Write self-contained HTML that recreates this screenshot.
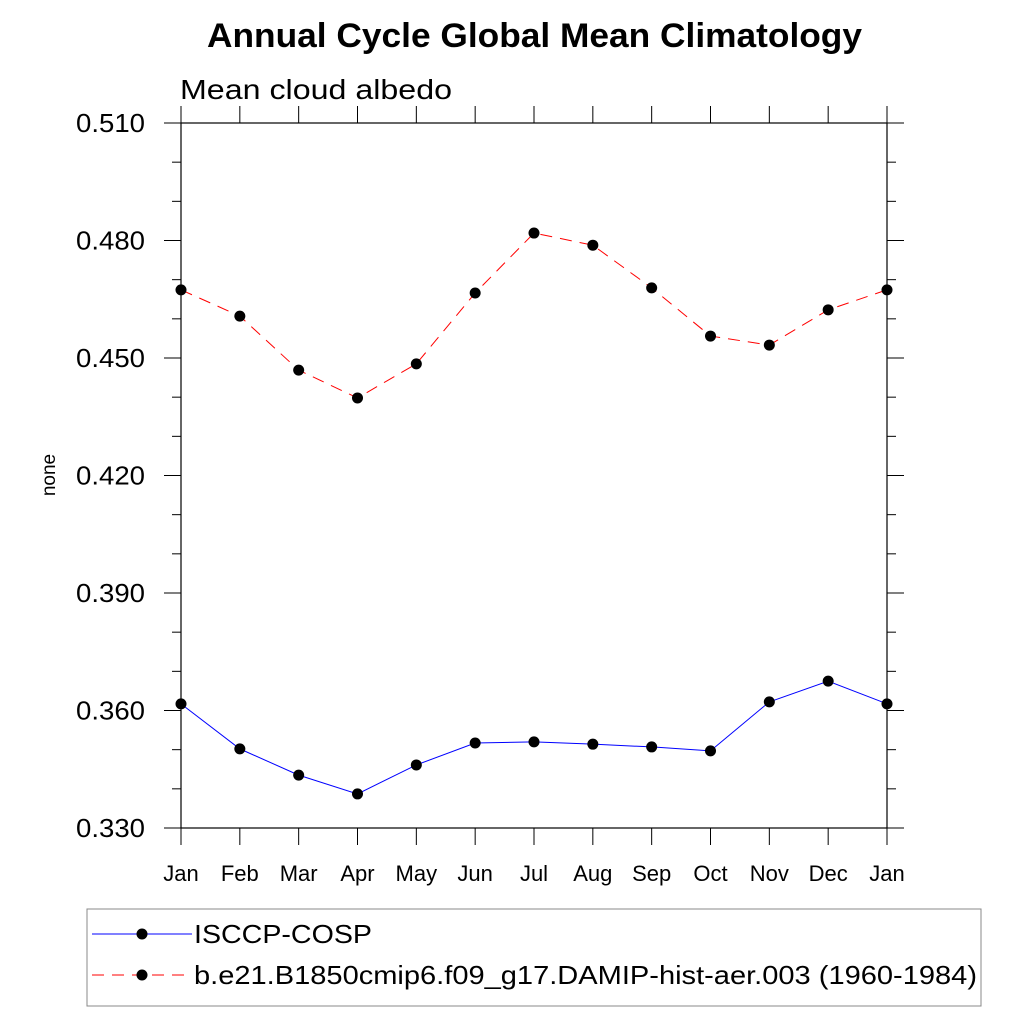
<!DOCTYPE html>
<html><head><meta charset="utf-8"><style>
body{margin:0;background:#fff}
svg text{font-family:"Liberation Sans",sans-serif}
</style></head><body>
<svg id="chart" width="1024" height="1024" xmlns="http://www.w3.org/2000/svg">
<text x="207" y="47" textLength="655" lengthAdjust="spacingAndGlyphs" font-size="34" font-weight="bold">Annual Cycle Global Mean Climatology</text>
<text x="180" y="99" textLength="272" lengthAdjust="spacingAndGlyphs" font-size="28">Mean cloud albedo</text>
<text transform="translate(55,475) rotate(-90)" text-anchor="middle" font-size="19">none</text>
<g id="axes"></g>
<g id="series"></g>
<rect x="87" y="909" width="894" height="97" fill="none" stroke="#888" stroke-width="1"/>
<line x1="92" y1="934" x2="192" y2="934" stroke="#00f" stroke-width="1"/>
<circle cx="142" cy="934" r="5.5" fill="#000"/>
<text x="194" y="943" textLength="178" lengthAdjust="spacingAndGlyphs" font-size="26">ISCCP-COSP</text>
<line x1="92" y1="975" x2="192" y2="975" stroke="#f00" stroke-width="1" stroke-dasharray="12,8"/>
<circle cx="142" cy="975" r="5.5" fill="#000"/>
<text x="194" y="984" textLength="783" lengthAdjust="spacingAndGlyphs" font-size="26">b.e21.B1850cmip6.f09_g17.DAMIP-hist-aer.003 (1960-1984)</text>
</svg>
<script>
const months=["Jan","Feb","Mar","Apr","May","Jun","Jul","Aug","Sep","Oct","Nov","Dec","Jan"];
const isccp=[0.3617,0.3502,0.3435,0.3387,0.3461,0.3517,0.3520,0.3514,0.3507,0.3497,0.3622,0.3675,0.3617];
const model=[0.4674,0.4607,0.4469,0.4398,0.4485,0.4666,0.4819,0.4788,0.4679,0.4556,0.4533,0.4623,0.4674];
const yTicks=[0.330,0.360,0.390,0.420,0.450,0.480,0.510];
const yTickLabels=["0.330","0.360","0.390","0.420","0.450","0.480","0.510"];
const NS="http://www.w3.org/2000/svg";
const X0=181,X1=887,Y0=828,Y1=123,ymin=0.33,ymax=0.51;
function xs(i){return X0+(X1-X0)*i/(months.length-1);}
function ys(v){return Y0-(v-ymin)/(ymax-ymin)*(Y0-Y1);}
function mk(tag,attrs,parent){const e=document.createElementNS(NS,tag);for(const k in attrs)e.setAttribute(k,attrs[k]);parent.appendChild(e);return e;}
const ax=document.getElementById('axes');
const frame=mk('rect',{x:X0,y:Y1,width:X1-X0,height:Y0-Y1,fill:'none',stroke:'#000','stroke-width':1.2},ax);


for(let v=ymin;v<=ymax+1e-9;v+=0.01){
  const y=ys(v);const major=Math.abs(((v-ymin)/0.03)-Math.round((v-ymin)/0.03))<1e-6;
  const L=major?17:9;
  const t1=mk('line',{x1:X0-L,y1:y,x2:X0,y2:y,stroke:'#000'},ax);
  
  
  const t2=mk('line',{x1:X1,y1:y,x2:X1+L,y2:y,stroke:'#000'},ax);
  
  
}
yTicks.forEach((v,i)=>{
  const t=mk('text',{x:76,y:ys(v)+9,'font-size':26,textLength:69,lengthAdjust:'spacingAndGlyphs'},ax);t.textContent=yTickLabels[i];
  
  
});
months.forEach((m,i)=>{
  const x=xs(i);
  const a=mk('line',{x1:x,y1:Y0,x2:x,y2:Y0+17,stroke:'#000'},ax);
  
  
  const b=mk('line',{x1:x,y1:Y1-17,x2:x,y2:Y1,stroke:'#000'},ax);
  
  
  const t=mk('text',{x:x,y:881,'text-anchor':'middle','font-size':22},ax);t.textContent=m;
  
  
});
const sg=document.getElementById('series');
function drawSeries(vals,color,dash,name){
  const pts=vals.map((v,i)=>xs(i)+','+ys(v)).join(' ');
  const pl=mk('polyline',{points:pts,fill:'none',stroke:color,'stroke-width':1,'stroke-dasharray':dash},sg);
  
  
  vals.forEach((v,i)=>{
    const c=mk('circle',{cx:xs(i),cy:ys(v),r:5.5,fill:'#000'},sg);
    
    
  });
}
drawSeries(isccp,'#00f','none','isccp');
drawSeries(model,'#f00','12,8','model');
</script>
</body></html>
